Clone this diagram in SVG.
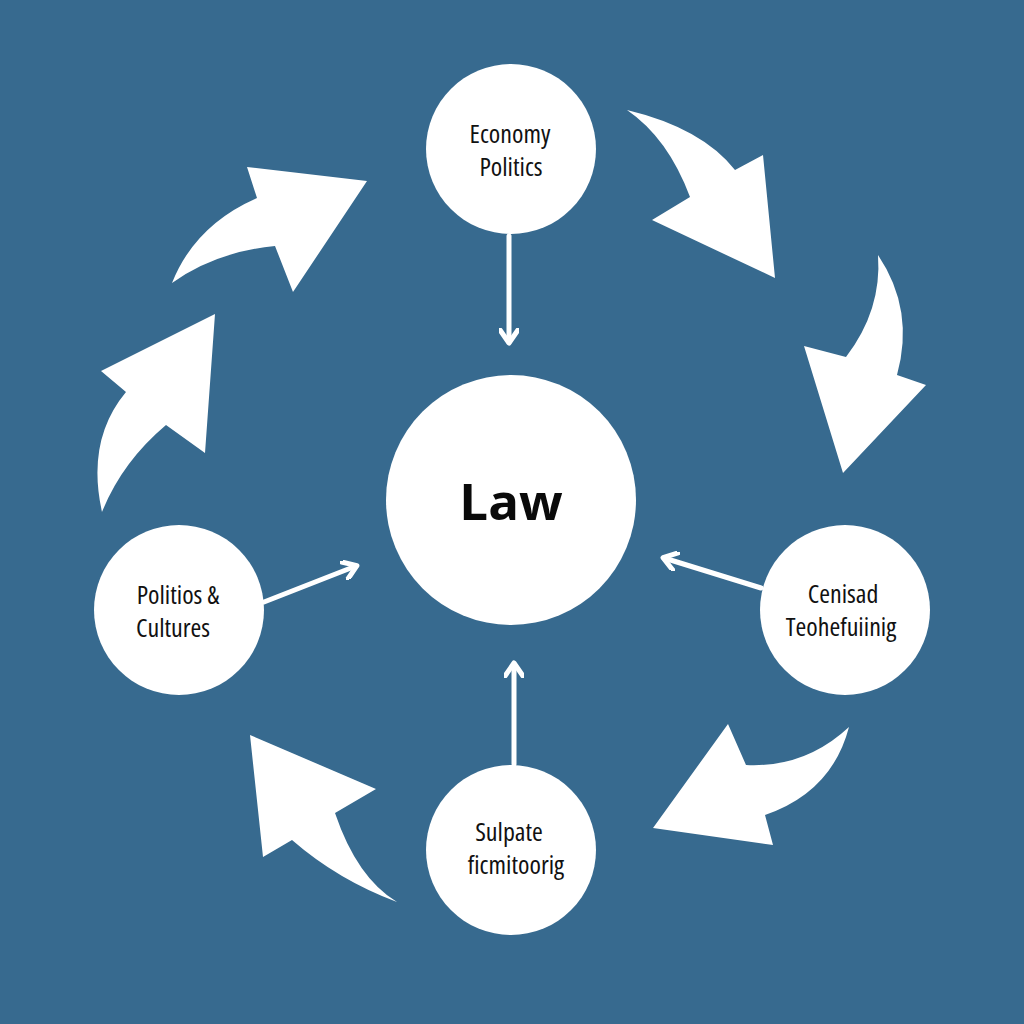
<svg xmlns="http://www.w3.org/2000/svg" width="1024" height="1024" viewBox="0 0 1024 1024">
<defs>
<style>
.bg{fill:#376a8f}
.node{fill:#ffffff}
.lbl{font-family:"Open Sans","Noto Sans","Liberation Sans",sans-serif;font-size:26px;fill:#111;text-anchor:middle;font-stretch:condensed}
.law{font-family:"Open Sans","Noto Sans","Liberation Sans",sans-serif;font-size:51px;font-weight:bold;fill:#0a0a0a;text-anchor:middle}
.thin{stroke:#ffffff;stroke-width:5;fill:none;stroke-linecap:round;stroke-linejoin:round}
.big{fill:#ffffff}
</style>
<marker id="chev" viewBox="0 0 20 20" refX="14" refY="10" markerWidth="20" markerHeight="20" markerUnits="userSpaceOnUse" orient="auto">
<path d="M2,1 L15,10 L2,19" fill="none" stroke="#ffffff" stroke-width="5" stroke-linecap="round" stroke-linejoin="round"/>
</marker>
</defs>
<rect class="bg" x="0" y="0" width="1024" height="1024"/>
<g id="connectors">
<line class="thin" x1="509" y1="236" x2="509" y2="342" marker-end="url(#chev)"/>
<line class="thin" x1="514" y1="764" x2="514" y2="664" marker-end="url(#chev)"/>
<line class="thin" x1="264" y1="602" x2="356" y2="566" marker-end="url(#chev)"/>
<line class="thin" x1="761" y1="588" x2="664" y2="558" marker-end="url(#chev)"/>
<path class="big" d="M172,283 Q195,225 257,198 L247,167 L367,181 L293,292 L275,246 Q215,252 172,283 Z"/>
<path class="big" d="M102,512 Q86,440 126,392 L101,371 L215,314 L205,453 L166,425 Q122,462 102,512 Z"/>
<path class="big" d="M627,110 Q702,128 735,170 L763,155 L775,278 L652,220 L690,197 Q668,138 627,110 Z"/>
<path class="big" d="M878,255 Q915,310 897,375 L926,385 L843,473 L804,346 L846,357 Q882,310 878,255 Z"/>
<path class="big" d="M849,727 Q805,768 746,765 L728,724 L653,828 L773,845 L765,815 Q832,792 849,727 Z"/>
<path class="big" d="M397,902 Q338,880 292,840 L263,857 L250,735 L376,789 L335,813 Q357,878 397,902 Z"/>
</g>
<g id="node-top">
<circle class="node" cx="511" cy="149" r="85"/>
<text class="lbl" x="510" y="143">Economy</text>
<text class="lbl" x="511" y="176">Politics</text>
</g>
<g id="node-law">
<circle class="node" cx="511" cy="500" r="125"/>
<text class="law" x="511" y="520">Law</text>
</g>
<g id="node-left">
<circle class="node" cx="179" cy="610" r="85"/>
<text class="lbl" x="178" y="604">Politios &amp;</text>
<text class="lbl" x="173" y="637">Cultures</text>
</g>
<g id="node-right">
<circle class="node" cx="845" cy="610" r="85"/>
<text class="lbl" x="843" y="603">Cenisad</text>
<text class="lbl" x="841" y="636">Teohefuiinig</text>
</g>
<g id="node-bottom">
<circle class="node" cx="511" cy="850" r="85"/>
<text class="lbl" x="509" y="841">Sulpate</text>
<text class="lbl" x="516" y="874">ficmitoorig</text>
</g>
</svg>
